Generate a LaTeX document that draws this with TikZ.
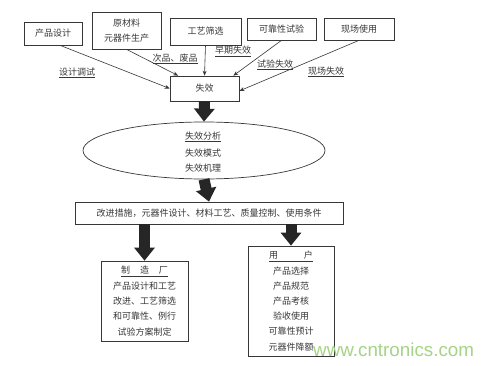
\documentclass[tikz,border=0pt]{standalone}
\usepackage{fontspec}
\newfontfamily\cjk{Noto Sans CJK SC}
\setsansfont{Liberation Sans}
\usetikzlibrary{arrows.meta,shapes.geometric}
\definecolor{ink}{RGB}{55,55,55}
\definecolor{wm}{RGB}{165,212,135}
\tikzset{
  box/.style={draw=ink, line width=0.7pt, rectangle, inner sep=0pt, align=center, text=ink, font=\cjk\fontsize{9}{12}\selectfont},
  lbl/.style={text=ink, inner sep=1pt, font=\cjk\fontsize{9}{11}\selectfont},
  thin/.style={draw=ink, line width=0.6pt, -{Stealth[length=5pt,width=4pt]}},
  fat/.style={draw=black!85, line width=11pt, -{Triangle[width=20pt,length=13pt]}},
}
\begin{document}
\begin{tikzpicture}[x=1pt,y=-1pt]
\useasboundingbox (0,0) rectangle (495,366);
\fill[white] (0,0) rectangle (495,366);
% top boxes
\node[box, minimum width=58pt, minimum height=23pt] (p1) at (53,33.5) {产品设计};
\node[box, minimum width=69pt, minimum height=37pt, font=\cjk\fontsize{9}{15}\selectfont] (p2) at (126.5,30.5) {原材料\\元器件生产};
\node[box, minimum width=71pt, minimum height=27pt] (p3) at (205.5,31.5) {工艺筛选};
\node[box, minimum width=69pt, minimum height=22pt] (p4) at (281.5,29) {可靠性试验};
\node[box, minimum width=70pt, minimum height=22pt] (p5) at (359,29) {现场使用};
% failure box
\node[box, minimum width=69pt, minimum height=25pt] (f) at (204.5,88.5) {失效};
% ellipse
\node[draw=ink, line width=0.7pt, ellipse, minimum width=242pt, minimum height=57pt, inner sep=0pt] (e) at (204,150.5) {};
\node[lbl] (e1) at (203,137) {\underline{失效分析}};
\node[lbl] (e2) at (203,153) {失效模式};
\node[lbl] (e3) at (203,168.5) {失效机理};
% improvement box
\node[box, minimum width=268pt, minimum height=22pt] (g) at (209,213) {改进措施，元器件设计、材料工艺、质量控制、使用条件};
% bottom boxes
\node[box, minimum width=87pt, minimum height=80pt, font=\cjk\fontsize{9}{15.3}\selectfont] (m) at (144.5,301)
  {\underline{制\hspace{10pt}造\hspace{10pt}厂}\\产品设计和工艺\\改进、工艺筛选\\和可靠性、例行\\试验方案制定};
\node[box, minimum width=86pt, minimum height=110pt, font=\cjk\fontsize{9}{15.2}\selectfont] (u) at (291,301)
  {\underline{用\hspace{26pt}户}\\产品选择\\产品规范\\产品考核\\验收使用\\可靠性预计\\元器件降额};
% thin connectors
\draw[thin] (p1.-59) -- (f.west);
\draw[thin] (p2.south) -- (f.154);
\draw[thin] (p3.south) -- (f.north);
\draw[thin] (p4.south) -- (f.24);
\draw[thin] (p5.south) -- (f.-4);
% labels
\node[lbl] (l1) at (77,73) {\underline{设计调试}};
\node[lbl] (l2) at (175,59) {\underline{次品、废品}};
\node[lbl] (l3) at (233,51.5) {\underline{早期失效}};
\node[lbl] (l4) at (275,65) {\underline{试验失效}};
\node[lbl] (l5) at (326,72) {\underline{现场失效}};
% fat arrows
\draw[fat] (f.south) -- (e.north);
\draw[fat] (e.south) -- (g.north);
\draw[fat] (g.south -| m.north) -- (m.north);
\draw[fat] (g.south -| u.north) -- (u.north);
% watermark
\node[anchor=base west, inner sep=0pt, text=wm, font=\sffamily\fontsize{18.8}{20}\selectfont] (wm) at (313,356) {www.cntronics.com};
\end{tikzpicture}
\end{document}
